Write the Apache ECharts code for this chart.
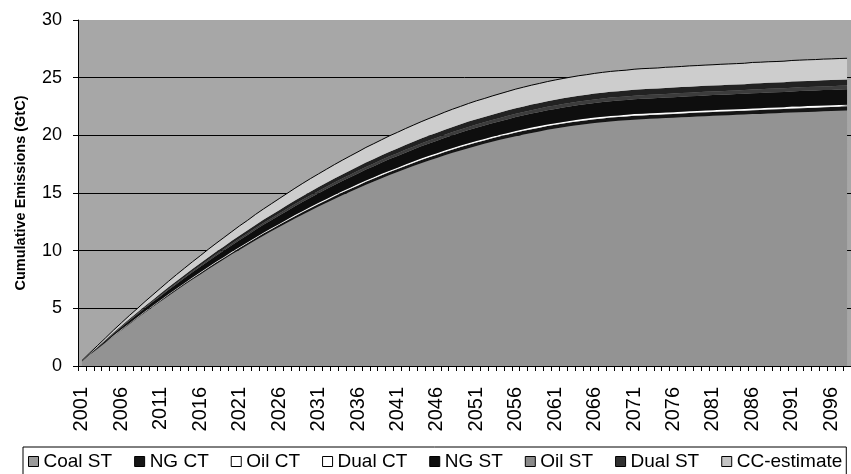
<!DOCTYPE html>
<html>
<head>
<meta charset="utf-8">
<script src="https://cdn.jsdelivr.net/npm/echarts@6/dist/echarts.min.js"></script>
<style>html,body{margin:0;padding:0;background:#fff;}#c{width:851px;height:474px;}</style>
</head>
<body>
<div id="c"></div>
<script>
const years = [2001,2002,2003,2004,2005,2006,2007,2008,2009,2010,2011,2012,2013,2014,2015,2016,2017,2018,2019,2020,2021,2022,2023,2024,2025,2026,2027,2028,2029,2030,2031,2032,2033,2034,2035,2036,2037,2038,2039,2040,2041,2042,2043,2044,2045,2046,2047,2048,2049,2050,2051,2052,2053,2054,2055,2056,2057,2058,2059,2060,2061,2062,2063,2064,2065,2066,2067,2068,2069,2070,2071,2072,2073,2074,2075,2076,2077,2078,2079,2080,2081,2082,2083,2084,2085,2086,2087,2088,2089,2090,2091,2092,2093,2094,2095,2096,2097,2098];

const coalST = [0.39,0.95,1.49,2.03,2.57,3.10,3.62,4.13,4.63,5.13,
5.61,6.09,6.57,7.04,7.49,7.94,8.39,8.83,9.25,9.68,
10.09,10.50,10.90,11.30,11.68,12.05,12.43,12.79,13.14,13.49,
13.83,14.16,14.49,14.81,15.11,15.42,15.72,16.00,16.28,16.56,
16.82,17.08,17.34,17.58,17.81,18.04,18.27,18.48,18.69,18.89,
19.08,19.26,19.44,19.61,19.77,19.93,20.08,20.21,20.34,20.48,
20.59,20.70,20.80,20.90,20.98,21.07,21.14,21.21,21.26,21.31,
21.36,21.40,21.43,21.46,21.50,21.53,21.56,21.60,21.63,21.66,
21.69,21.72,21.75,21.78,21.80,21.84,21.86,21.90,21.92,21.95,
21.98,22.00,22.03,22.05,22.08,22.10,22.13,22.15];

const ngCT = [0.01,0.01,0.02,0.03,0.04,0.05,0.06,0.06,0.07,0.08,
0.09,0.10,0.10,0.11,0.12,0.12,0.13,0.14,0.14,0.15,
0.16,0.16,0.17,0.18,0.18,0.19,0.19,0.20,0.21,0.21,
0.22,0.22,0.23,0.23,0.24,0.24,0.25,0.25,0.26,0.26,
0.26,0.27,0.27,0.28,0.28,0.28,0.29,0.29,0.29,0.30,
0.30,0.30,0.30,0.31,0.31,0.31,0.31,0.32,0.32,0.32,
0.32,0.32,0.33,0.33,0.33,0.33,0.33,0.33,0.33,0.33,
0.33,0.33,0.33,0.33,0.33,0.33,0.34,0.34,0.34,0.34,
0.34,0.34,0.34,0.34,0.34,0.34,0.34,0.34,0.34,0.34,
0.35,0.35,0.35,0.35,0.35,0.35,0.35,0.35];

const oilCT = [0,0,0,0,0.01,0.01,0.01,0.01,0.01,0.01,
0.01,0.01,0.01,0.01,0.01,0.01,0.01,0.01,0.01,0.01,
0.01,0.01,0.01,0.01,0.01,0.01,0.01,0.02,0.02,0.02,
0.02,0.02,0.02,0.02,0.02,0.02,0.02,0.02,0.02,0.02,
0.02,0.02,0.02,0.02,0.02,0.02,0.02,0.02,0.02,0.02,
0.02,0.02,0.02,0.02,0.02,0.02,0.02,0.02,0.02,0.02,
0.02,0.02,0.02,0.02,0.02,0.02,0.02,0.02,0.02,0.02,
0.02,0.02,0.02,0.02,0.02,0.02,0.02,0.02,0.02,0.02,
0.02,0.02,0.02,0.02,0.02,0.02,0.02,0.02,0.02,0.02,
0.03,0.03,0.03,0.03,0.03,0.03,0.03,0.03];

const dualCT = [0.00,0.01,0.01,0.01,0.02,0.02,0.02,0.02,0.03,0.03,
0.03,0.04,0.04,0.04,0.05,0.05,0.05,0.05,0.06,0.06,
0.06,0.06,0.07,0.07,0.07,0.07,0.07,0.08,0.08,0.08,
0.08,0.09,0.09,0.09,0.09,0.09,0.09,0.10,0.10,0.10,
0.10,0.10,0.10,0.11,0.11,0.11,0.11,0.11,0.11,0.11,
0.11,0.11,0.11,0.11,0.11,0.12,0.12,0.12,0.12,0.12,
0.12,0.12,0.12,0.12,0.12,0.12,0.12,0.12,0.12,0.12,
0.13,0.13,0.13,0.13,0.13,0.13,0.13,0.13,0.13,0.13,
0.13,0.13,0.13,0.13,0.13,0.13,0.13,0.13,0.13,0.13,
0.13,0.13,0.13,0.13,0.13,0.13,0.13,0.13];

const ngST = [0.02,0.06,0.09,0.12,0.16,0.19,0.22,0.25,0.28,0.31,
0.34,0.37,0.40,0.42,0.45,0.48,0.51,0.53,0.56,0.58,
0.61,0.63,0.66,0.68,0.70,0.73,0.75,0.77,0.79,0.81,
0.83,0.85,0.87,0.89,0.91,0.93,0.95,0.96,0.98,1.00,
1.01,1.03,1.04,1.06,1.07,1.09,1.10,1.11,1.13,1.14,
1.15,1.16,1.17,1.18,1.19,1.20,1.21,1.22,1.23,1.23,
1.24,1.25,1.25,1.26,1.26,1.27,1.27,1.28,1.28,1.28,
1.29,1.29,1.29,1.29,1.30,1.30,1.30,1.30,1.30,1.31,
1.31,1.31,1.31,1.31,1.31,1.32,1.32,1.32,1.32,1.32,
1.32,1.33,1.33,1.33,1.33,1.33,1.33,1.33];

const oilST = [0.01,0.01,0.02,0.03,0.04,0.04,0.05,0.06,0.07,0.07,
0.08,0.09,0.10,0.10,0.11,0.11,0.12,0.13,0.13,0.14,
0.15,0.15,0.16,0.16,0.17,0.17,0.18,0.18,0.19,0.20,
0.20,0.20,0.21,0.21,0.22,0.22,0.23,0.23,0.24,0.24,
0.24,0.25,0.25,0.25,0.26,0.26,0.26,0.27,0.27,0.27,
0.28,0.28,0.28,0.28,0.29,0.29,0.29,0.29,0.29,0.30,
0.30,0.30,0.30,0.30,0.30,0.30,0.31,0.31,0.31,0.31,
0.31,0.31,0.31,0.31,0.31,0.31,0.31,0.31,0.31,0.31,
0.31,0.31,0.31,0.31,0.32,0.32,0.32,0.32,0.32,0.32,
0.32,0.32,0.32,0.32,0.32,0.32,0.32,0.32];

const dualST = [0.01,0.02,0.04,0.05,0.06,0.07,0.09,0.10,0.11,0.12,
0.14,0.15,0.16,0.17,0.18,0.19,0.20,0.21,0.22,0.23,
0.24,0.25,0.26,0.27,0.28,0.29,0.30,0.31,0.32,0.33,
0.33,0.34,0.35,0.36,0.36,0.37,0.38,0.39,0.39,0.40,
0.41,0.41,0.42,0.42,0.43,0.43,0.44,0.45,0.45,0.46,
0.46,0.46,0.47,0.47,0.48,0.48,0.48,0.49,0.49,0.49,
0.50,0.50,0.50,0.50,0.51,0.51,0.51,0.51,0.51,0.51,
0.51,0.52,0.52,0.52,0.52,0.52,0.52,0.52,0.52,0.52,
0.52,0.52,0.52,0.52,0.52,0.53,0.53,0.53,0.53,0.53,
0.53,0.53,0.53,0.53,0.53,0.53,0.53,0.53];

const ccEstimate = [0.03,0.08,0.12,0.17,0.21,0.26,0.30,0.34,0.39,0.43,
0.47,0.51,0.55,0.59,0.62,0.66,0.70,0.73,0.77,0.80,
0.84,0.87,0.91,0.94,0.97,1.00,1.03,1.06,1.09,1.12,
1.15,1.18,1.20,1.23,1.26,1.28,1.31,1.33,1.35,1.38,
1.40,1.42,1.44,1.46,1.48,1.50,1.52,1.54,1.55,1.57,
1.59,1.60,1.62,1.63,1.64,1.66,1.67,1.68,1.69,1.70,
1.71,1.72,1.73,1.74,1.74,1.75,1.76,1.76,1.77,1.77,
1.78,1.78,1.78,1.78,1.79,1.79,1.79,1.80,1.80,1.80,
1.80,1.81,1.81,1.81,1.81,1.82,1.82,1.82,1.82,1.82,
1.83,1.83,1.83,1.83,1.84,1.84,1.84,1.84];

const seriesNames = ['Coal ST','NG CT','Oil CT','Dual CT','NG ST','Oil ST','Dual ST','CC-estimate'];
const seriesData = [coalST, ngCT, oilCT, dualCT, ngST, oilST, dualST, ccEstimate];
const seriesColors = ['#939393','#151515','#ffffff','#ffffff','#0e0e0e','#3c3c3c','#222222','#cdcdcd'];
const legendColors = ['#9a9a9a','#151515','#ffffff','#ffffff','#0e0e0e','#8a8a8a','#303030','#c4c4c4'];

const FONT = '"Liberation Sans", Arial, sans-serif';

const chart = echarts.init(document.getElementById('c'), null, {renderer: 'canvas'});
chart.setOption({
  animation: false,
  backgroundColor: '#ffffff',
  textStyle: {fontFamily: FONT, color: '#000'},
  grid: {left: 78, right: 0, top: 20, bottom: 108, show: true, backgroundColor: '#a7a7a7', borderWidth: 0},
  legend: {
    left: 23, top: 447, width: 840,
    padding: [5, 4, 5, 5],
    borderColor: '#000', borderWidth: 1,
    icon: 'rect', itemWidth: 10, itemHeight: 10, itemGap: 22,
    itemStyle: {borderColor: '#000', borderWidth: 1},
    textStyle: {fontFamily: FONT, fontSize: 19, color: '#000'},
    data: seriesNames
  },
  xAxis: {
    type: 'category',
    data: years,
    boundaryGap: true,
    axisLine: {lineStyle: {color: '#000', width: 1}},
    axisTick: {show: true, interval: 0, length: 5, lineStyle: {color: '#000'}},
    axisLabel: {interval: 4, rotate: 90, margin: 21, fontSize: 20, color: '#000', fontFamily: FONT},
    splitLine: {show: false}
  },
  yAxis: {
    type: 'value', min: 0, max: 30, interval: 5,
    name: 'Cumulative Emissions (GtC)',
    nameLocation: 'middle', nameGap: 50, nameRotate: 90,
    nameTextStyle: {fontSize: 14.5, fontWeight: 'bold', color: '#000', fontFamily: FONT},
    axisLine: {show: true, lineStyle: {color: '#000', width: 1}},
    axisTick: {show: true, length: 5, lineStyle: {color: '#000'}},
    axisLabel: {fontSize: 18, color: '#000', margin: 16, fontFamily: FONT},
    splitLine: {show: true, showMaxLine: false, lineStyle: {color: '#000', width: 1}}
  },
  series: seriesNames.map((name, i) => ({
    name: name,
    type: 'line',
    stack: 'total',
    data: seriesData[i],
    showSymbol: false,
    symbol: 'none',
    silent: true,
    itemStyle: {color: legendColors[i], borderColor: '#000', borderWidth: 1},
    lineStyle: i === seriesNames.length - 1 ? {color: '#000', width: 1} : {width: 0, color: seriesColors[i]},
    areaStyle: {color: seriesColors[i], opacity: 1}
  }))
});
</script>
</body>
</html>
